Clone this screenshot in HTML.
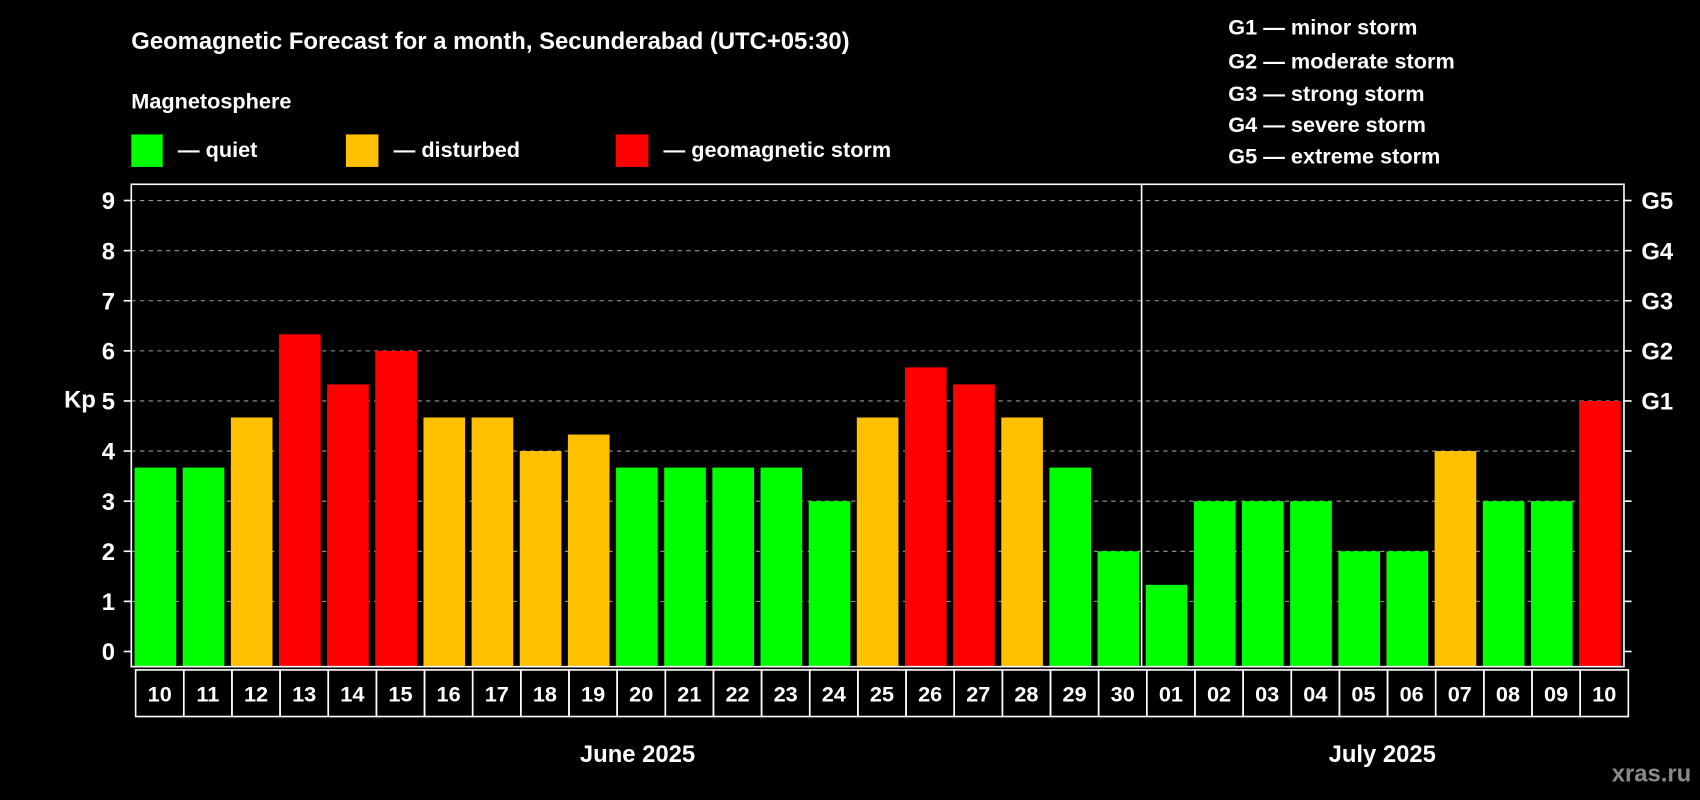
<!DOCTYPE html>
<html><head><meta charset="utf-8"><style>
html,body{margin:0;padding:0;background:#000;}
svg{display:block;font-family:"Liberation Sans",Arial,sans-serif;font-weight:bold;}
</style></head><body>
<svg id="chart" width="1700" height="800" viewBox="0 0 1568 738" xmlns="http://www.w3.org/2000/svg">
<rect width="1568" height="738" fill="#000"/>
<text x="121" y="45" fill="#fff" font-size="22">Geomagnetic Forecast for a month, Secunderabad (UTC+05:30)</text>
<text x="121" y="100" fill="#fff" font-size="20">Magnetosphere</text>
<g><rect x="121" y="124" width="29" height="30" fill="#00ff00"/><text x="164" y="145" fill="#fff" font-size="20">— quiet</text></g>
<g><rect x="319" y="124" width="30" height="30" fill="#ffc000"/><text x="363" y="145" fill="#fff" font-size="20">— disturbed</text></g>
<g><rect x="568" y="124" width="30" height="30" fill="#ff0000"/><text x="612" y="145" fill="#fff" font-size="20">— geomagnetic storm</text></g>
<g fill="#fff" font-size="20">
<text x="1133" y="32">G1 — minor storm</text>
<text x="1133" y="63">G2 — moderate storm</text>
<text x="1133" y="93">G3 — strong storm</text>
<text x="1133" y="122">G4 — severe storm</text>
<text x="1133" y="151">G5 — extreme storm</text>
</g>
<g id="grid"></g>
<g id="bars"></g>
<rect x="121" y="170" width="1377" height="445" fill="none" stroke="#fff" stroke-width="1.5"/>
<line x1="1053" y1="170" x2="1053" y2="615" stroke="#fff" stroke-width="1.5"/>
<g id="axes"></g>
<g id="dates"></g>
<text x="121" y="0" transform="translate(-62,376)" fill="#fff" font-size="22">Kp</text>
<text x="588" y="703" fill="#fff" font-size="22" text-anchor="middle">June 2025</text>
<text x="1275" y="703" fill="#fff" font-size="22" text-anchor="middle">July 2025</text>
<text x="1560" y="721" fill="#8a8a8a" font-size="22" text-anchor="end">xras.ru</text>
</svg>
<script>
const days = ["10","11","12","13","14","15","16","17","18","19","20","21","22","23","24","25","26","27","28","29","30","01","02","03","04","05","06","07","08","09","10"];
const kpValues = [3.67,3.67,4.67,6.33,5.33,6,4.67,4.67,4,4.33,3.67,3.67,3.67,3.67,3,4.67,5.67,5.33,4.67,3.67,2,1.33,3,3,3,2,2,4,3,3,5];
const yTicks = [0,1,2,3,4,5,6,7,8,9];
const gLabels = ["G1","G2","G3","G4","G5"];
const gLevels = [5,6,7,8,9];

const NS="http://www.w3.org/2000/svg";
const L=121,R=1498,T=170,B=615;
const y0=601,unit=(601-185)/9;
const yPos=v=>y0-v*unit;
const pitch=(R-L)/days.length;
const xPos=i=>L+i*pitch;
function mk(tag,attrs,parent){const e=document.createElementNS(NS,tag);for(const k in attrs)e.setAttribute(k,attrs[k]);parent.appendChild(e);return e;}
const grid=document.getElementById('grid'),bars=document.getElementById('bars'),axes=document.getElementById('axes'),dates=document.getElementById('dates');
yTicks.forEach(v=>{
  if(v>0){const g=mk('line',{x1:L,x2:R,y1:yPos(v),y2:yPos(v),stroke:'#9a9a9a','stroke-width':1,'stroke-dasharray':'4,4'},grid);
  
  }
  const t=mk('line',{x1:L-7,x2:L,y1:yPos(v),y2:yPos(v),stroke:'#fff','stroke-width':1.5},axes);
  
  
  const t2=mk('line',{x1:R,x2:R+7,y1:yPos(v),y2:yPos(v),stroke:'#fff','stroke-width':1.5},axes);
  
  
  const lb=mk('text',{x:106,y:yPos(v)+8,fill:'#fff','font-size':22,'text-anchor':'end'},axes);
  lb.textContent=v;
  
  
});
gLabels.forEach((g,i)=>{
  const lb=mk('text',{x:1514,y:yPos(gLevels[i])+8,fill:'#fff','font-size':22},axes);
  lb.textContent=g;
  
  
});
kpValues.forEach((v,i)=>{
  const col=v>=5?'#ff0000':(v>=4?'#ffc000':'#00ff00');
  const r=mk('rect',{x:xPos(i)+3,y:yPos(v),width:pitch-6,height:B-yPos(v),fill:col},bars);
  
  
  const c=mk('rect',{x:xPos(i)+4,y:618,width:pitch,height:43,fill:'none',stroke:'#fff','stroke-width':1.5},dates);
  
  
  const t=mk('text',{x:xPos(i)+4+pitch/2,y:647,fill:'#fff','font-size':20,'text-anchor':'middle'},dates);
  t.textContent=days[i];
  
  
});
</script>
</body></html>
